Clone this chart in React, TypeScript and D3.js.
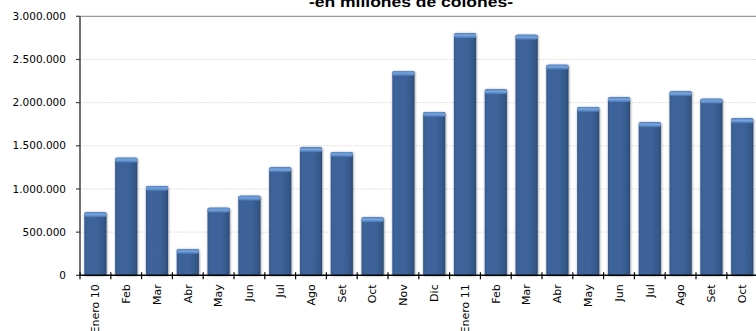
import React from "react";
import * as d3 from "d3";

const categories: string[] = [
  "Enero 10", "Feb", "Mar", "Abr", "May", "Jun", "Jul", "Ago", "Set", "Oct", "Nov", "Dic",
  "Enero 11", "Feb", "Mar", "Abr", "May", "Jun", "Jul", "Ago", "Set", "Oct",
];
const values: number[] = [
  730000, 1363000, 1035000, 305000, 783000, 922000, 1251000, 1483000, 1429000, 672000, 2367000, 1892000,
  2804000, 2155000, 2785000, 2440000, 1950000, 2063000, 1773000, 2132000, 2046000, 1819000,
];
const yTicks: number[] = [0, 500000, 1000000, 1500000, 2000000, 2500000, 3000000];
const subtitle = "-en millones de colones-";

const W = 756;
const H = 331;
const left = 80;
const top = 16.3;
const bottom = 275.3;
const right = 757.6;

const locale = d3.formatLocale({ decimal: ",", thousands: ".", grouping: [3], currency: ["", ""] });
const fmt = locale.format(",d");

export default function App() {
  const idx = categories.map((_, i) => i);
  const x = d3.scaleBand<number>().domain(idx).range([left, right]).paddingInner(0.28).paddingOuter(0.14);
  const y = d3.scaleLinear().domain([0, 3000000]).range([bottom, top]);
  const step = x.step();
  const bw = x.bandwidth();
  const tickFont = "'DejaVu Sans', Verdana, sans-serif";

  return (
    <svg width={W} height={H} style={{ position: "absolute", left: 0, top: 0, background: "#fff" }}>
      <defs>
        <linearGradient id="barBody" x1="0" x2="1" y1="0" y2="0">
          <stop offset="0" stopColor="#36598c" />
          <stop offset="0.12" stopColor="#3d649b" />
          <stop offset="0.6" stopColor="#3c6399" />
          <stop offset="0.9" stopColor="#345788" />
          <stop offset="1" stopColor="#2b4872" />
        </linearGradient>
        <linearGradient id="barCap" x1="0" x2="0" y1="0" y2="1">
          <stop offset="0" stopColor="#5584c2" />
          <stop offset="0.45" stopColor="#75a5e0" />
          <stop offset="1" stopColor="#4670a8" />
        </linearGradient>
        <filter id="shadow" x="-30%" y="-10%" width="160%" height="120%">
          <feDropShadow dx="0.5" dy="0.5" stdDeviation="1.3" floodColor="#000" floodOpacity="0.45" />
        </filter>
        <clipPath id="clipAll">
          <rect x={0} y={0} width={W} height={H} />
        </clipPath>
      </defs>

      <text
        x={411}
        y={7}
        textAnchor="middle"
        fontFamily="'Liberation Sans', Arial, sans-serif"
        fontWeight="bold"
        fontSize={15}
        textLength={204}
        lengthAdjust="spacingAndGlyphs"
        fill="#000"
      >
        {subtitle}
      </text>

      {/* gridlines */}
      {yTicks.filter((t) => t > 0 && t < 3000000).map((t) => (
        <line key={"g" + t} x1={left} x2={W} y1={y(t)} y2={y(t)} stroke="#d9d9d9" strokeWidth={0.8} strokeDasharray="2,1" />
      ))}
      <line x1={left} x2={W} y1={y(3000000)} y2={y(3000000)} stroke="#808080" strokeWidth={1} />

      {/* bars */}
      <g clipPath="url(#clipAll)">
        {values.map((v, i) => {
          const bx = x(i) as number;
          const by = y(v);
          const bh = bottom - by;
          return (
            <g key={"b" + i} filter="url(#shadow)">
              <rect x={bx} y={by} width={bw} height={bh} fill="url(#barBody)" rx={1.5} />
              <rect x={bx} y={by} width={bw} height={Math.min(5, bh)} fill="url(#barCap)" rx={2.5} />
            </g>
          );
        })}
      </g>

      {/* y axis */}
      <line x1={left} x2={left} y1={top} y2={bottom} stroke="#404040" strokeWidth={1.5} />
      {yTicks.map((t) => (
        <g key={"y" + t}>
          <line x1={left - 4} x2={left} y1={y(t)} y2={y(t)} stroke="#404040" strokeWidth={1.2} />
          <text x={66} y={y(t)} dy="0.35em" textAnchor="end" fontFamily={tickFont} fontSize={10.5} fill="#000">
            {fmt(t)}
          </text>
        </g>
      ))}

      {/* x axis */}
      <line x1={left} x2={W} y1={bottom} y2={bottom} stroke="#000" strokeWidth={1.5} />
      {d3.range(categories.length + 1).map((k) => (
        <line key={"t" + k} x1={left + k * step} x2={left + k * step} y1={bottom - 3} y2={bottom + 4} stroke="#000" strokeWidth={1.2} />
      ))}
      {categories.map((c, i) => {
        const cx = (x(i) as number) + bw / 2;
        return (
          <text
            key={"l" + i}
            transform={`translate(${cx},${bottom + 9}) rotate(-90)`}
            textAnchor="end"
            dy="0.35em"
            fontFamily={tickFont}
            fontSize={11}
            fill="#000"
          >
            {c}
          </text>
        );
      })}
    </svg>
  );
}
